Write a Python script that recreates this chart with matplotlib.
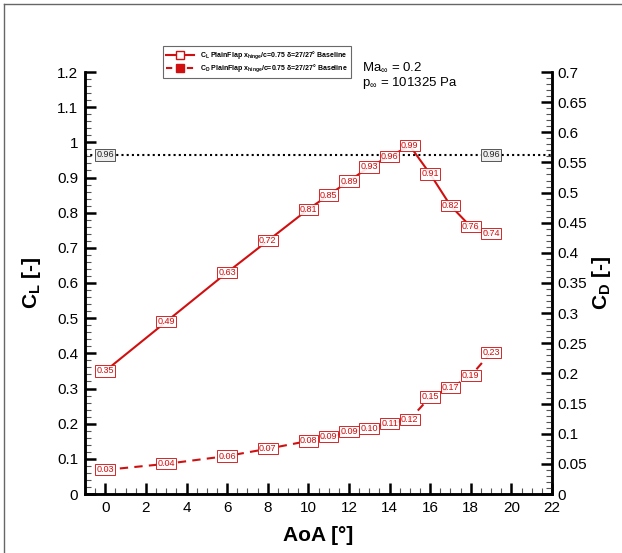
import matplotlib
matplotlib.use("Agg")
import matplotlib.pyplot as plt
from matplotlib.lines import Line2D
from matplotlib.ticker import MultipleLocator

plt.rcParams['font.family'] = ['Liberation Sans', 'DejaVu Sans']
plt.rcParams['mathtext.default'] = 'regular'

# ---- data ----
aoa = [0, 3, 6, 8, 10, 11, 12, 13, 14, 15, 16, 17, 18, 19]
cl = [0.35, 0.49, 0.63, 0.72, 0.81, 0.85, 0.89, 0.93, 0.96, 0.99, 0.91, 0.82, 0.76, 0.74]
cd = [0.040, 0.050, 0.063, 0.075, 0.088, 0.095, 0.103, 0.109, 0.117, 0.124, 0.161, 0.176, 0.196, 0.235]
cd_labels = ["0.03", "0.04", "0.06", "0.07", "0.08", "0.09", "0.09", "0.10", "0.11",
             "0.12", "0.15", "0.17", "0.19", "0.23"]
cl_max_ref = 0.964
cl_max_label = "0.96"
ref_label_x = [0, 19]
x_ticks = list(range(0, 23, 2))
cl_ticks = [round(0.1 * i, 1) for i in range(13)]
cd_ticks = [round(0.05 * i, 2) for i in range(15)]

red = '#d01010'

fig = plt.figure(figsize=(6.22, 5.53), dpi=100)
ax = fig.add_axes([85 / 622, 1 - 494 / 553, (552 - 85) / 622, (494 - 72) / 553])
ax2 = ax.twinx()

ax.set_xlim(-1, 22)
ax.set_ylim(0, 1.2)
ax2.set_ylim(0, 0.7)

# lines
ax.plot(aoa, cl, color=red, lw=1.5, zorder=3)
ax2.plot(aoa, cd, color=red, lw=1.5, ls=(0, (4, 3)), zorder=3)
ax.axhline(cl_max_ref, color='black', lw=1.5, ls=(0, (1, 1.5)), zorder=2)

box_red = dict(boxstyle='square,pad=0.12', fc='white', ec=red, lw=0.7, alpha=0.9)
for x, y in zip(aoa, cl):
    ax.text(x, y, f"{y:.2f}", color=red, fontsize=6.5, ha='center', va='center',
            bbox=box_red, zorder=5)
for x, y, s in zip(aoa, cd, cd_labels):
    ax2.text(x, y, s, color=red, fontsize=6.5, ha='center', va='center',
             bbox=box_red, zorder=5)
box_grey = dict(boxstyle='square,pad=0.12', fc='#eeeeee', ec='#555555', lw=0.7)
for x in ref_label_x:
    ax.text(x, cl_max_ref, cl_max_label, color='#222222', fontsize=6.5, ha='center',
            va='center', bbox=box_grey, zorder=5)

# ticks & spines
for a in (ax, ax2):
    a.spines['top'].set_visible(False)
    for s in a.spines.values():
        s.set_linewidth(1.8)
ax.set_xticks(x_ticks)
ax.xaxis.set_minor_locator(MultipleLocator(0.5))
ax.set_yticks(cl_ticks)
ax.set_yticklabels([f"{t:g}" for t in cl_ticks])
ax.yaxis.set_minor_locator(MultipleLocator(0.02))
ax2.set_yticks(cd_ticks)
ax2.set_yticklabels([f"{t:g}" for t in cd_ticks])
ax2.yaxis.set_minor_locator(MultipleLocator(0.01))

ax.tick_params(which='major', direction='in', length=8, width=1.8, labelsize=11, pad=5)
ax.tick_params(which='minor', direction='in', length=4, width=0.8, color='#555555')
ax2.tick_params(which='major', direction='in', length=8, width=1.8, labelsize=11, pad=4)
ax2.tick_params(which='minor', direction='in', length=4, width=0.8, color='#555555')
ax.tick_params(axis='x', which='both', top=False)

ax.set_xlabel("AoA [°]", fontsize=15, fontweight='bold', labelpad=8)
ax.set_ylabel("C$_L$ [-]", fontsize=15, fontweight='bold', labelpad=10)
ax2.set_ylabel("C$_D$ [-]", fontsize=15, fontweight='bold', labelpad=2)

# legend
handles = [
    Line2D([], [], color=red, lw=1.5, marker='s', markersize=6, mfc='white', mec=red),
    Line2D([], [], color=red, lw=1.5, ls=(0, (3, 2)), marker='s', markersize=6, mfc=red, mec=red),
]
labels = [
    r"C$_L$ PlainFlap x$_{hinge}$/c=0.75 δ=27/27° Baseline",
    r"C$_D$ PlainFlap x$_{hinge}$/c=0.75 δ=27/27° Baseline",
]
leg = ax.legend(handles, labels, loc='upper left', bbox_to_anchor=(163 / 622, 1 - 46 / 553),
                bbox_transform=fig.transFigure, borderaxespad=0,
                prop={'weight': 'bold', 'size': 5}, frameon=True, fancybox=False,
                edgecolor='#444444', handlelength=4, labelspacing=0.2, borderpad=0.5)
leg.get_frame().set_linewidth(0.8)

fig.text(362 / 622, 1 - 67 / 553, r"Ma$_\infty$ = 0.2", fontsize=9.5, va='center', ha='left')
fig.text(362 / 622, 1 - 83 / 553, r"p$_\infty$ = 101325 Pa", fontsize=9.5, va='center', ha='left')

# outer frame lines
fig.add_artist(Line2D([4 / 622, 1], [1 - 4 / 553, 1 - 4 / 553], color='#666666', lw=1,
                      transform=fig.transFigure))
fig.add_artist(Line2D([4 / 622, 4 / 622], [1 - 4 / 553, 0], color='#666666', lw=1,
                      transform=fig.transFigure))

fig.savefig("out.png", dpi=100)
